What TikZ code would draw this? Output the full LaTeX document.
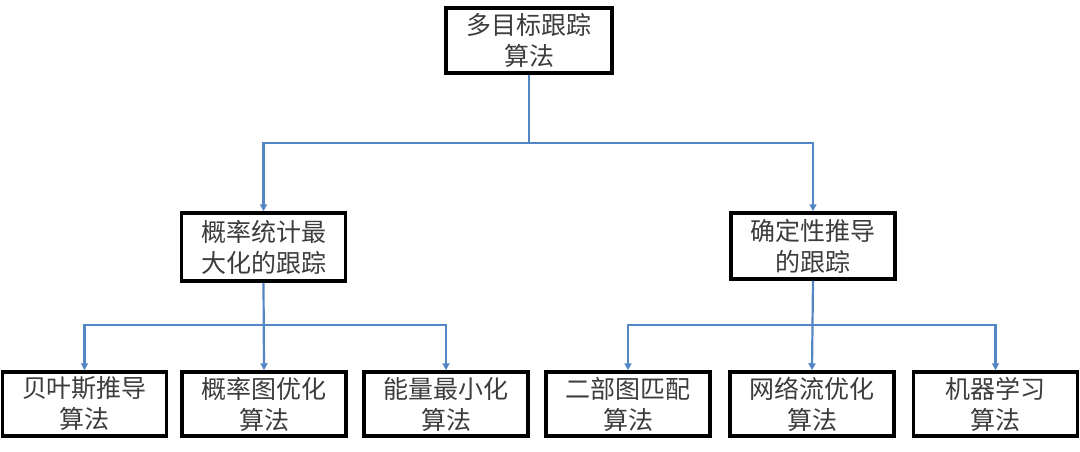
\documentclass[tikz,border=0pt]{standalone}
\usepackage{fontspec}
\newfontfamily\cjk{Noto Sans CJK SC}
\usetikzlibrary{arrows.meta}
\definecolor{linkblue}{RGB}{84,134,198}
\definecolor{txtgray}{RGB}{60,60,60}
\begin{document}
\begin{tikzpicture}[x=1pt,y=-1pt,
  box/.style={draw=black,line width=3.5pt,fill=white,inner sep=0pt,
    minimum width=164pt,minimum height=64pt,align=center,
    font=\cjk\fontsize{25}{31}\selectfont,text=txtgray},
  conn/.style={draw=linkblue,line width=2.2pt},
  arr/.style={conn,-{Triangle[length=7pt,width=7pt]}}]
\useasboundingbox (0,0) rectangle (1080,451);
\node[box,minimum width=166pt,minimum height=65pt] (top) at (529,40.5) {多目标跟踪\\算法};
\node[box,minimum height=68pt] (ml) at (263.5,247) {概率统计最\\大化的跟踪};
\node[box,minimum height=66pt] (mr) at (813,246) {确定性推导\\的跟踪};
\node[box] (b1) at (84.5,404) {贝叶斯推导\\算法};
\node[box] (b2) at (264,404) {概率图优化\\算法};
\node[box] (b3) at (446,404) {能量最小化\\算法};
\node[box] (b4) at (628,404) {二部图匹配\\算法};
\node[box] (b5) at (812,404) {网络流优化\\算法};
\node[box] (b6) at (995.5,404) {机器学习\\算法};
\coordinate (j0) at (529,143);
\coordinate (j1) at (263.5,325);
\coordinate (j2) at (813,325);
\begin{scope}[on background layer/.style={}]
\end{scope}
\draw[conn] (top.south) -- (j0);
\draw[arr] (j0) -| (ml.north);
\draw[arr] (j0) -| (mr.north);
\draw[arr] (ml.south) -- (b2.north);
\draw[arr] (j1) -| (b1.north);
\draw[arr] (j1) -| (b3.north);
\draw[arr] (mr.south) -- (b5.north);
\draw[arr] (j2) -| (b4.north);
\draw[arr] (j2) -| (b6.north);
\end{tikzpicture}
\end{document}
